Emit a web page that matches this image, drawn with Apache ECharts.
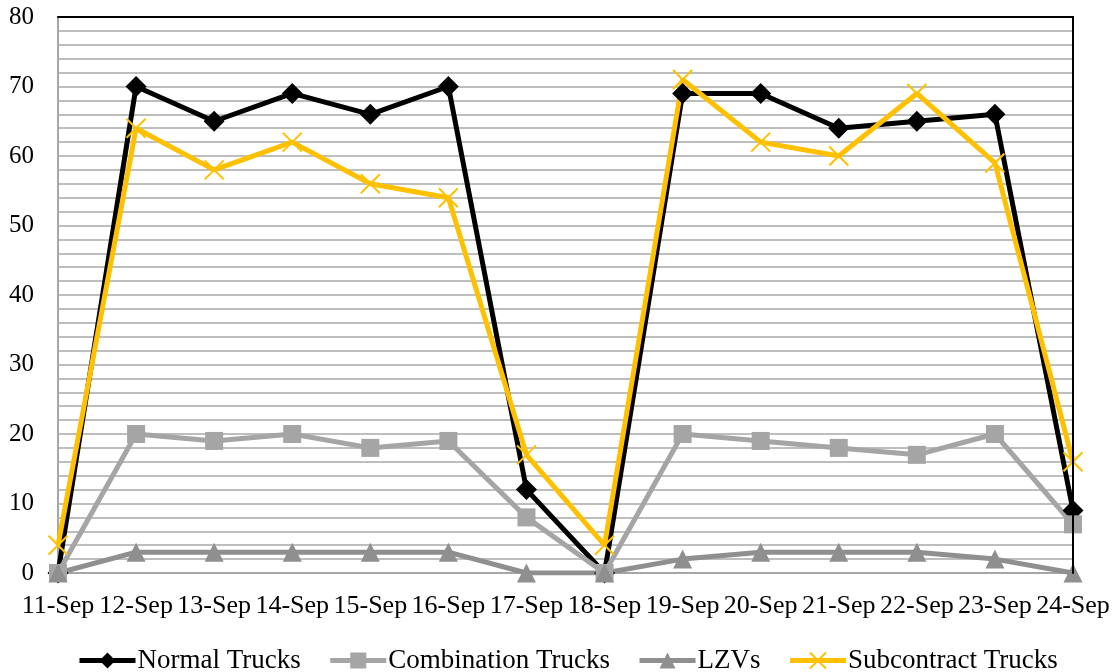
<!DOCTYPE html>
<html>
<head>
<meta charset="utf-8">
<script src="https://cdn.jsdelivr.net/npm/echarts@6/dist/echarts.min.js"></script>
<style>
  html, body { margin: 0; padding: 0; background: #fff; }
  #chart { width: 1114px; height: 672px; }
</style>
</head>
<body>
<div id="chart"></div>
<script>
// Daily truck counts, 11–24 September
const days = ['11-Sep', '12-Sep', '13-Sep', '14-Sep', '15-Sep', '16-Sep', '17-Sep',
              '18-Sep', '19-Sep', '20-Sep', '21-Sep', '22-Sep', '23-Sep', '24-Sep'];
const normalTrucks      = [0, 70, 65, 69, 66, 70, 12, 0, 69, 69, 64, 65, 66, 9];
const combinationTrucks = [0, 20, 19, 20, 18, 19, 8, 0, 20, 19, 18, 17, 20, 7];
const lzvs              = [0, 3, 3, 3, 3, 3, 0, 0, 2, 3, 3, 3, 2, 0];
const subcontractTrucks = [4, 64, 58, 62, 56, 54, 17, 4, 71, 62, 60, 69, 59, 16];
const yTicks = { min: 0, max: 80, step: 10 };

const FONT = '"Liberation Serif", "Times New Roman", serif';
const crossPath = 'path://M0,0L10,10M10,0L0,10';
const GRID_GRAY = '#BEBEBE';

function lineSeries(name, data, color, symbol, size, extra) {
  return Object.assign({
    name: name,
    type: 'line',
    data: data,
    symbol: symbol,
    symbolSize: size,
    showAllSymbol: true,
    lineStyle: { color: color, width: 5 },
    itemStyle: { color: color },
    emphasis: { disabled: true },
    animation: false
  }, extra || {});
}

const chart = echarts.init(document.getElementById('chart'), null, { renderer: 'canvas' });
chart.setOption({
  backgroundColor: '#fff',
  animation: false,
  textStyle: { fontFamily: FONT },
  grid: { left: 58, right: 41, top: 17, bottom: 99 },
  legend: {
    top: 642,
    left: 72,
    itemWidth: 56,
    itemHeight: 20,
    itemGap: 27,
    lineStyle: { width: 5 },
    textStyle: { fontFamily: FONT, fontSize: 27, color: '#000', padding: [0, 0, 0, -3] },
    data: ['Normal Trucks', 'Combination Trucks', 'LZVs', 'Subcontract Trucks']
  },
  xAxis: [{
    type: 'category',
    data: days,
    boundaryGap: false,
    axisLine: { lineStyle: { color: '#A6A6A6', width: 2 } },
    axisTick: { show: false },
    axisLabel: { interval: 0, fontFamily: FONT, fontSize: 26, color: '#000', margin: 20 },
    splitLine: { show: false }
  }, {
    // plot frame: top edge
    type: 'category',
    data: days,
    position: 'top',
    boundaryGap: false,
    axisLine: { onZero: false, lineStyle: { color: '#000', width: 2 } },
    axisTick: { show: false },
    axisLabel: { show: false },
    splitLine: { show: false },
    z: 5
  }],
  yAxis: [{
    type: 'value',
    min: yTicks.min, max: yTicks.max, interval: yTicks.step,
    axisLine: { show: true, lineStyle: { color: '#A6A6A6', width: 2 } },
    axisTick: { show: false },
    axisLabel: { fontFamily: FONT, fontSize: 25, color: '#000', margin: 24 },
    splitLine: { show: true, lineStyle: { color: GRID_GRAY, width: 2 } },
    minorTick: { show: false, splitNumber: 5 },
    minorSplitLine: { show: true, lineStyle: { color: GRID_GRAY, width: 2 } }
  }, {
    // plot frame: right edge
    type: 'value',
    position: 'right',
    min: yTicks.min, max: yTicks.max, interval: yTicks.step,
    axisLine: { show: true, onZero: false, lineStyle: { color: '#000', width: 2 } },
    axisTick: { show: false },
    axisLabel: { show: false },
    splitLine: { show: false },
    z: 5
  }],
  series: [
    lineSeries('Normal Trucks', normalTrucks, '#000000', 'diamond', 21),
    lineSeries('Combination Trucks', combinationTrucks, '#A5A5A5', 'rect', 18),
    lineSeries('LZVs', lzvs, '#8F8F8F', 'triangle', 19),
    lineSeries('Subcontract Trucks', subcontractTrucks, '#FFC000', crossPath, 19, {
      itemStyle: { color: 'transparent', borderColor: '#FFC000', borderWidth: 2 }
    })
  ]
});
</script>
</body>
</html>
